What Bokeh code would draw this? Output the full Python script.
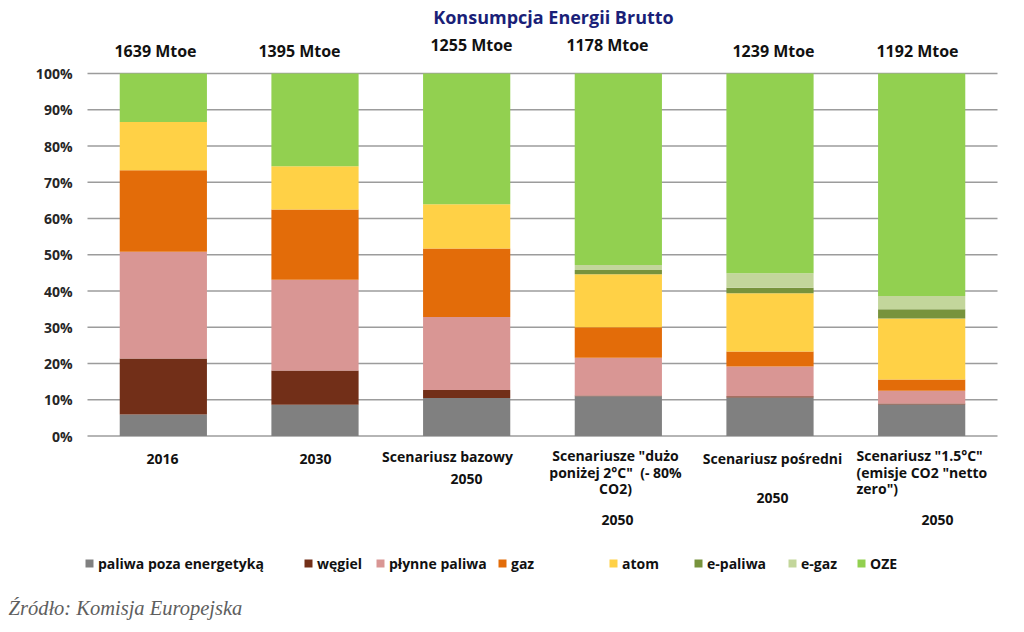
from bokeh.plotting import figure
from bokeh.models import ColumnDataSource, Range1d, Label, Legend, LegendItem
from bokeh.core.properties import value
from bokeh.embed import file_html
from bokeh.resources import INLINE

# ---------------- data ----------------
categories = ["2016", "2030", "Scenariusz bazowy 2050",
              "Scenariusze \"dużo poniżej 2°C\" (- 80% CO2) 2050",
              "Scenariusz pośredni 2050",
              "Scenariusz \"1.5°C\" (emisje CO2 \"netto zero\") 2050"]
totals = ["1639 Mtoe", "1395 Mtoe", "1255 Mtoe", "1178 Mtoe", "1239 Mtoe", "1192 Mtoe"]

series = ["paliwa poza energetyką", "węgiel", "płynne paliwa", "gaz",
          "atom", "e-paliwa", "e-gaz", "OZE"]
paliwa_poza = [5.9, 8.6, 10.5, 11.0, 10.6, 8.7]
wegiel      = [15.5, 9.5, 2.2, 0.2, 0.4, 0.3]
plynne      = [29.4, 25.0, 20.1, 10.4, 8.2, 3.5]
gaz         = [22.5, 19.4, 18.9, 8.4, 4.1, 3.1]
atom        = [13.3, 11.9, 12.2, 14.6, 16.1, 16.8]
e_paliwa    = [0.0, 0.0, 0.0, 1.2, 1.5, 2.6]
e_gaz       = [0.0, 0.0, 0.0, 1.4, 4.0, 3.6]
oze         = [13.4, 25.6, 36.1, 52.8, 55.1, 61.4]

colors = ["#808080", "#722F18", "#D99694", "#E36C09",
          "#FFD146", "#77933C", "#C3D69B", "#92D050"]

y_ticks = list(range(0, 101, 10))
y_tick_labels = [f"{t}%" for t in y_ticks]

# x-axis label blocks (lines) and the separate year line
label_lines = [["2016"], ["2030"], ["Scenariusz bazowy"],
               ["Scenariusze \"dużo", "poniżej 2°C\" \u00a0(- 80%", "CO2)"],
               ["Scenariusz pośredni"],
               ["Scenariusz \"1.5°C\"", "(emisje CO2 \"netto", "zero\")"]]
year_lines = ["", "", "2050", "2050", "2050", "2050"]

# ---------------- layout constants (pixels of the 1024x632 page) ----------------
W, H = 1024, 632
PL, PR = 87, 997          # plot area left / right
PT, PB = 73, 435.5        # 100% and 0% lines
N = len(categories)
XU = (PR - PL) / N        # px per category
YU = (PB - PT) / 100.0    # px per percent


def dx(px):
    return (px - PL) / XU


def dy(py):
    return (PB - py) / YU


FONT = "Open Sans"

src = ColumnDataSource(dict(
    x=[i + 0.5 for i in range(N)],
    **{f"s{k}": v for k, v in enumerate([paliwa_poza, wegiel, plynne, gaz,
                                          atom, e_paliwa, e_gaz, oze])}))
keys = [f"s{k}" for k in range(len(series))]

p = figure(width=W, height=H, output_backend="svg", toolbar_location=None,
           x_range=Range1d(dx(0), dx(W)), y_range=Range1d(dy(H), dy(0)),
           x_axis_location=None, y_axis_location=None, title=None,
           min_border=0)
p.outline_line_color = None
p.background_fill_color = "white"
p.border_fill_color = "white"
p.xgrid.visible = False
p.ygrid.visible = False

# gridlines
p.segment(x0=[0] * len(y_ticks), x1=[N] * len(y_ticks), y0=y_ticks, y1=y_ticks,
          line_color="#9C9C9C", line_width=1.7)

renderers = p.vbar_stack(keys, x="x", width=0.575, color=colors,
                         line_color=None, source=src)

# y tick labels
p.text(x=[dx(72)] * len(y_ticks), y=y_ticks, text=y_tick_labels,
       text_align="right", text_baseline="middle", text_font=value(FONT),
       text_font_style="bold", text_font_size="14px", text_color="#262626")


def add_text(txt, px, py, size="14px", align="center", color="#111111",
             style="bold", font=FONT):
    p.add_layout(Label(x=dx(px), y=dy(py), text=txt, text_align=align,
                       text_baseline="middle", text_font=font,
                       text_font_style=style, text_font_size=size,
                       text_color=color))


# title
add_text("Konsumpcja Energii Brutto", 553, 16, size="18px", color="#1A1F78")

# totals above bars
tot_pos = [(155, 50), (299, 50), (471, 44), (607, 44), (773, 50), (917, 50)]
for t, (px, py) in zip(totals, tot_pos):
    add_text(t, px, py, size="16px")

# category labels
blk_pos = [(162, 458, "center"), (315, 458, "center"), (447, 456, "center"),
           (615, 455, "center"), (772, 458, "center"), (856, 455, "left")]
for lines, (px, py, al) in zip(label_lines, blk_pos):
    for j, ln in enumerate(lines):
        add_text(ln, px, py + j * 16.5, size="14px", align=al)
yr_pos = [(0, 0), (0, 0), (466, 478), (617, 519), (772, 497), (937, 519)]
for yl, (px, py) in zip(year_lines, yr_pos):
    if yl:
        add_text(yl, px, py, size="14px")

# legend, one item at a time at its own place
leg_x = [84, 303, 375, 497, 608, 693, 787, 856]
leg_cy = 563
for name, r, lx in zip(series, renderers, leg_x):
    leg = Legend(items=[LegendItem(label=name, renderers=[r])],
                 location=(lx, H - (leg_cy + 10)),
                 orientation="horizontal", glyph_width=10, glyph_height=10,
                 label_standoff=4, padding=0, margin=0, spacing=0,
                 label_height=20, border_line_color=None,
                 background_fill_alpha=0,
                 label_text_font=FONT, label_text_font_style="bold",
                 label_text_font_size="14px", label_text_color="#111111")
    p.add_layout(leg)

# source
add_text("Źródło: Komisja Europejska", 8, 607, size="20.5px", align="left",
         color="#5E5E5E", style="italic", font="Liberation Serif")

open("out.html", "w").write(file_html(p, INLINE))
